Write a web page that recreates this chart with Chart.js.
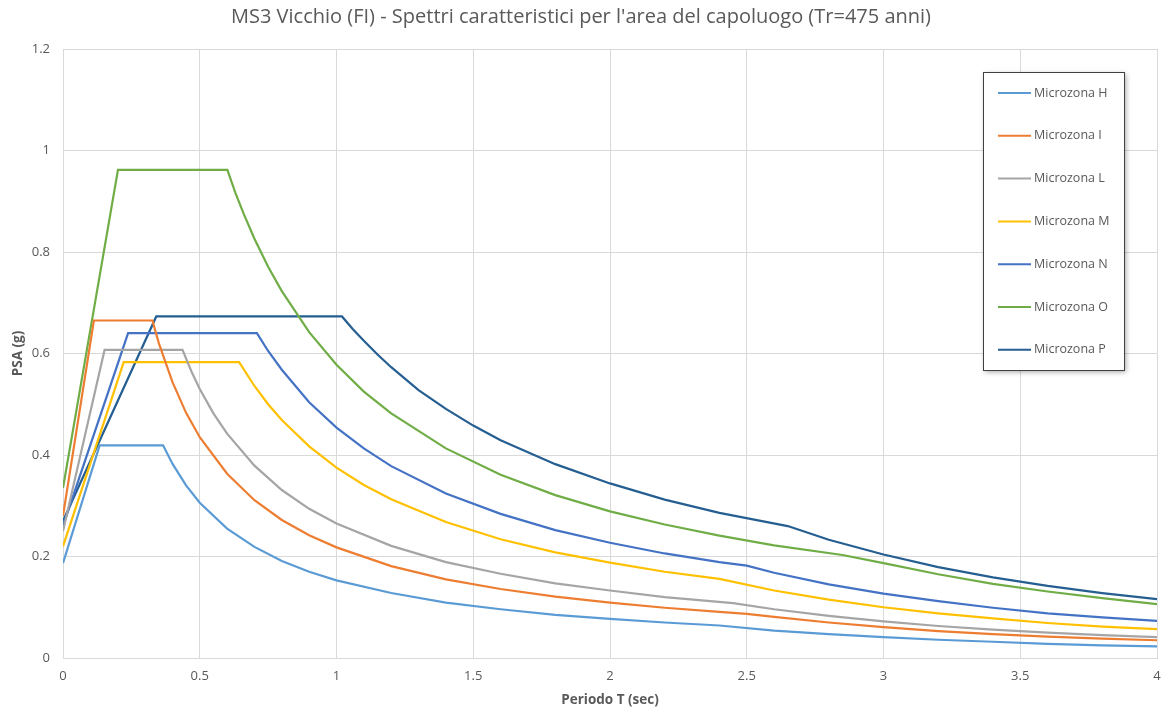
<!DOCTYPE html>
<html>
<head>
<meta charset="utf-8">
<script src="https://cdn.jsdelivr.net/npm/chart.js@4.4.1/dist/chart.umd.min.js"></script>
<style>
  html, body { margin: 0; padding: 0; background: #ffffff; }
  #wrap { width: 1161px; height: 711px; position: relative; }
</style>
</head>
<body>
<div id="wrap"><canvas id="spectra" width="1161" height="711"></canvas></div>
<script>
// Series names and colours
const zoneNames = ['Microzona H', 'Microzona I', 'Microzona L', 'Microzona M', 'Microzona N', 'Microzona O', 'Microzona P'];
const zoneColors = ['#5B9BD5', '#ED7D31', '#A5A5A5', '#FFC000', '#4472C4', '#70AD47', '#255E91'];

// Periods (s) and PSA (g), one pair per microzone
const periodsH = [0, 0.134, 0.366, 0.4, 0.45, 0.5, 0.6, 0.7, 0.8, 0.9, 1.0, 1.2, 1.4, 1.6, 1.8, 2.0, 2.2, 2.4, 2.6, 2.8, 3.0, 3.2, 3.4, 3.6, 3.8, 4.0];
const psaH     = [0.187, 0.419, 0.419, 0.383, 0.340, 0.306, 0.255, 0.219, 0.191, 0.170, 0.153, 0.128, 0.109, 0.096, 0.085, 0.077, 0.070, 0.064, 0.054, 0.047, 0.041, 0.036, 0.032, 0.028, 0.025, 0.023];

const periodsI = [0, 0.113, 0.327, 0.35, 0.4, 0.45, 0.5, 0.6, 0.7, 0.8, 0.9, 1.0, 1.2, 1.4, 1.6, 1.8, 2.0, 2.2, 2.4, 2.5, 2.6, 2.8, 3.0, 3.2, 3.4, 3.6, 3.8, 4.0];
const psaI     = [0.280, 0.665, 0.665, 0.621, 0.544, 0.483, 0.435, 0.363, 0.311, 0.272, 0.242, 0.218, 0.181, 0.155, 0.136, 0.121, 0.109, 0.099, 0.091, 0.087, 0.081, 0.070, 0.061, 0.053, 0.047, 0.042, 0.038, 0.035];

const periodsL = [0, 0.152, 0.437, 0.47, 0.5, 0.55, 0.6, 0.7, 0.8, 0.9, 1.0, 1.2, 1.4, 1.6, 1.8, 2.0, 2.2, 2.45, 2.6, 2.8, 3.0, 3.2, 3.4, 3.6, 3.8, 4.0];
const psaL     = [0.250, 0.607, 0.607, 0.564, 0.530, 0.482, 0.442, 0.379, 0.331, 0.294, 0.265, 0.221, 0.189, 0.166, 0.147, 0.133, 0.120, 0.108, 0.096, 0.083, 0.072, 0.063, 0.056, 0.050, 0.045, 0.041];

const periodsM = [0, 0.222, 0.644, 0.7, 0.75, 0.8, 0.9, 1.0, 1.1, 1.2, 1.4, 1.6, 1.8, 2.0, 2.2, 2.4, 2.6, 2.8, 3.0, 3.2, 3.4, 3.6, 3.8, 4.0];
const psaM     = [0.220, 0.583, 0.583, 0.536, 0.500, 0.469, 0.417, 0.375, 0.341, 0.313, 0.268, 0.234, 0.208, 0.188, 0.170, 0.156, 0.133, 0.115, 0.100, 0.088, 0.078, 0.069, 0.062, 0.057];

const periodsN = [0, 0.238, 0.709, 0.75, 0.8, 0.9, 1.0, 1.1, 1.2, 1.4, 1.6, 1.8, 2.0, 2.2, 2.4, 2.5, 2.6, 2.8, 3.0, 3.2, 3.4, 3.6, 3.8, 4.0];
const psaN     = [0.260, 0.640, 0.640, 0.605, 0.568, 0.504, 0.454, 0.413, 0.378, 0.324, 0.284, 0.252, 0.227, 0.206, 0.189, 0.182, 0.168, 0.145, 0.127, 0.112, 0.099, 0.088, 0.080, 0.073];

const periodsO = [0, 0.201, 0.601, 0.63, 0.66, 0.7, 0.75, 0.8, 0.9, 1.0, 1.1, 1.2, 1.4, 1.6, 1.8, 2.0, 2.2, 2.4, 2.6, 2.85, 3.0, 3.2, 3.4, 3.6, 3.8, 4.0];
const psaO     = [0.335, 0.962, 0.962, 0.917, 0.876, 0.826, 0.771, 0.723, 0.642, 0.578, 0.525, 0.482, 0.413, 0.361, 0.321, 0.289, 0.263, 0.241, 0.222, 0.203, 0.187, 0.165, 0.146, 0.131, 0.118, 0.106];

const periodsP = [0, 0.341, 1.02, 1.06, 1.1, 1.15, 1.2, 1.3, 1.4, 1.5, 1.6, 1.8, 2.0, 2.2, 2.4, 2.65, 2.8, 3.0, 3.2, 3.4, 3.6, 3.8, 4.0];
const psaP     = [0.270, 0.673, 0.673, 0.648, 0.625, 0.598, 0.573, 0.528, 0.491, 0.458, 0.429, 0.382, 0.344, 0.312, 0.286, 0.260, 0.233, 0.204, 0.179, 0.159, 0.142, 0.128, 0.116];

const allPeriods = [periodsH, periodsI, periodsL, periodsM, periodsN, periodsO, periodsP];
const allPsa = [psaH, psaI, psaL, psaM, psaN, psaO, psaP];

const textGrey = '#595959';
const fontFamily = "'Open Sans', 'Liberation Sans', sans-serif";

// Title, axis titles and the boxed legend inside the plot
const decorations = {
    id: 'decorations',
    afterDraw(chart) {
        const ctx = chart.ctx;
        const area = chart.chartArea;
        ctx.save();
        ctx.fillStyle = textGrey;
        ctx.textAlign = 'center';
        ctx.textBaseline = 'middle';
        ctx.font = '20px ' + fontFamily;
        ctx.fillText("MS3 Vicchio (FI) - Spettri caratteristici per l'area del capoluogo (Tr=475 anni)", 581, 17);

        ctx.font = 'bold 13.5px ' + fontFamily;
        ctx.fillText('Periodo T (sec)', (area.left + area.right) / 2, 700);
        ctx.save();
        ctx.translate(18, (area.top + area.bottom) / 2);
        ctx.rotate(-Math.PI / 2);
        ctx.fillText('PSA (g)', 0, 0);
        ctx.restore();

        // legend box
        const bx = 983, by = 72, bw = 141, bh = 298;
        ctx.save();
        ctx.shadowColor = 'rgba(0,0,0,0.35)';
        ctx.shadowBlur = 5;
        ctx.shadowOffsetX = 2;
        ctx.shadowOffsetY = 2;
        ctx.fillStyle = '#ffffff';
        ctx.fillRect(bx, by, bw, bh);
        ctx.restore();
        ctx.strokeStyle = '#404040';
        ctx.lineWidth = 1;
        ctx.strokeRect(bx + 0.5, by + 0.5, bw, bh);

        ctx.textAlign = 'left';
        ctx.font = '12.5px ' + fontFamily;
        chart.data.datasets.forEach((ds, i) => {
            const y = 93 + i * 42.8;
            ctx.strokeStyle = ds.borderColor;
            ctx.lineWidth = 2;
            ctx.beginPath();
            ctx.moveTo(998, y);
            ctx.lineTo(1031, y);
            ctx.stroke();
            ctx.fillStyle = textGrey;
            ctx.fillText(ds.label, 1034, y);
        });
        ctx.restore();
    }
};

new Chart(document.getElementById('spectra'), {
    type: 'line',
    data: {
        datasets: zoneNames.map((name, i) => ({
            label: name,
            data: allPeriods[i].map((t, j) => ({ x: t, y: allPsa[i][j] })),
            borderColor: zoneColors[i],
            backgroundColor: zoneColors[i],
            borderWidth: 2.2,
            pointRadius: 0,
            tension: 0,
            fill: false
        }))
    },
    options: {
        responsive: false,
        animation: false,
        layout: { padding: { top: 49, right: 4, left: 0, bottom: 0 } },
        plugins: {
            legend: { display: false },
            title: { display: false },
            tooltip: { enabled: false }
        },
        scales: {
            x: {
                type: 'linear',
                min: 0,
                max: 4,
                ticks: {
                    stepSize: 0.5,
                    color: textGrey,
                    padding: 10,
                    font: { family: fontFamily, size: 13 },
                    callback: (v) => String(Math.round(v * 10) / 10)
                },
                grid: { color: '#d9d9d9', drawTicks: false },
                border: { color: '#d9d9d9' },
                afterFit: (scale) => {
                    scale.height = 53;
                    scale.paddingLeft = 0;
                    scale.paddingRight = 0;
                }
            },
            y: {
                min: 0,
                max: 1.2,
                ticks: {
                    stepSize: 0.2,
                    color: textGrey,
                    padding: 13,
                    font: { family: fontFamily, size: 13 },
                    callback: (v) => String(Math.round(v * 10) / 10)
                },
                grid: { color: '#d9d9d9', drawTicks: false },
                border: { color: '#d9d9d9' },
                afterFit: (scale) => {
                    scale.width = 63;
                    scale.paddingTop = 0;
                    scale.paddingBottom = 0;
                }
            }
        }
    },
    plugins: [decorations]
});
</script>
</body>
</html>
